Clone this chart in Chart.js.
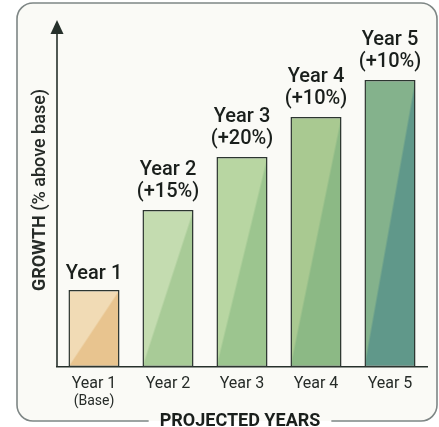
<!DOCTYPE html>
<html>
<head>
<meta charset="utf-8">
<script src="https://cdn.jsdelivr.net/npm/chart.js@4"></script>
<style>
  html, body { margin: 0; padding: 0; background: #ffffff; }
  #wrap { width: 439px; height: 427px; }
</style>
</head>
<body>
<div id="wrap"><canvas id="growthChart" width="439" height="427"></canvas></div>
<script>
// projected growth chart //
var years = ['Year 1', 'Year 2', 'Year 3', 'Year 4', 'Year 5'];
var barHeights = [22.3, 45.5, 60.9, 72.5, 83.2];   // relative bar heights
var growthNotes = ['', '(+15%)', '(+20%)', '(+10%)', '(+10%)'];
var tickNotes = ['(Base)', '', '', '', ''];
var yAxisTitle = ['GROWTH ', '(% above base)'];
var xAxisTitle = 'PROJECTED YEARS';

var lightColors = ['#f1dbb5', '#c4dcb0', '#b8d6a2', '#a9c991', '#84b28c'];
var darkColors = ['#e8c48f', '#a8cb97', '#9cc58f', '#8cb985', '#60988a'];

var FONT = 'Roboto, "Noto Sans", sans-serif';
var INK = '#1a1f1c';

function barFill(c) {
    var chart = c.chart;
    var i = c.dataIndex;
    if (!chart.chartArea || i === undefined) return lightColors[i || 0];
    var xs = chart.scales.x, ys = chart.scales.y;
    var cx = xs.getPixelForValue(i);
    var w = (chart.chartArea.width / years.length) * 0.69;
    var top = ys.getPixelForValue(barHeights[i]);
    var bottom = ys.getPixelForValue(0);
    var h = bottom - top;
    var cy = (top + bottom) / 2;
    // split runs from bottom-left to top-right corner
    var len = Math.sqrt(w * w + h * h);
    var nx = h / len, ny = w / len;
    var k = (w * nx + h * ny) / 2;
    var g = chart.ctx.createLinearGradient(cx - nx * k, cy - ny * k, cx + nx * k, cy + ny * k);
    g.addColorStop(0, lightColors[i]);
    g.addColorStop(0.49, lightColors[i]);
    g.addColorStop(0.51, darkColors[i]);
    g.addColorStop(1, darkColors[i]);
    return g;
}

var framePlugin = {
    id: 'frame',
    beforeDraw: function(chart) {
        var ctx = chart.ctx;
        var L = 17, T = 3, R = 437, B = 421, r = 16;
        ctx.save();
        ctx.beginPath();
        ctx.moveTo(L + r, T);
        ctx.arcTo(R, T, R, B, r);
        ctx.arcTo(R, B, L, B, r);
        ctx.arcTo(L, B, L, T, r);
        ctx.arcTo(L, T, R, T, r);
        ctx.closePath();
        ctx.fillStyle = '#fafaf6';
        ctx.fill();

        // border, broken at the bottom for the x title
        ctx.font = '700 18px ' + FONT;
        var tw = ctx.measureText(xAxisTitle).width;
        var mid = 240;
        var gapL = mid - tw / 2 - 11, gapR = mid + tw / 2 + 11;
        ctx.beginPath();
        ctx.moveTo(gapR, B);
        ctx.arcTo(R, B, R, T, r);
        ctx.arcTo(R, T, L, T, r);
        ctx.arcTo(L, T, L, B, r);
        ctx.arcTo(L, B, R, B, r);
        ctx.lineTo(gapL, B);
        ctx.strokeStyle = '#7e8685';
        ctx.lineWidth = 1.6;
        ctx.stroke();

        ctx.fillStyle = INK;
        ctx.textAlign = 'center';
        ctx.textBaseline = 'alphabetic';
        ctx.fillText(xAxisTitle, mid, 426);
        ctx.restore();
    },
    afterDatasetsDraw: function(chart) {
        var ctx = chart.ctx;
        var area = chart.chartArea;
        ctx.save();

        // y axis with arrow
        ctx.strokeStyle = '#26302b';
        ctx.fillStyle = '#26302b';
        ctx.lineWidth = 1.6;
        ctx.beginPath();
        ctx.moveTo(area.left, area.bottom);
        ctx.lineTo(area.left, 30);
        ctx.stroke();
        ctx.beginPath();
        ctx.moveTo(area.left, 20);
        ctx.lineTo(area.left - 6.5, 34);
        ctx.lineTo(area.left + 6.5, 34);
        ctx.closePath();
        ctx.fill();

        // y title
        ctx.translate(40, 190);
        ctx.rotate(-Math.PI / 2);
        ctx.font = '700 18px ' + FONT;
        var w1 = ctx.measureText(yAxisTitle[0]).width;
        ctx.font = '500 18px ' + FONT;
        var w2 = ctx.measureText(yAxisTitle[1]).width;
        var sx = -(w1 + w2) / 2;
        ctx.fillStyle = '#262b28';
        ctx.textAlign = 'left';
        ctx.textBaseline = 'middle';
        ctx.font = '700 18px ' + FONT;
        ctx.fillText(yAxisTitle[0], sx, 0);
        ctx.font = '500 18px ' + FONT;
        ctx.fillText(yAxisTitle[1], sx + w1, 0);
        ctx.setTransform(1, 0, 0, 1, 0, 0);

        // labels above bars
        var meta = chart.getDatasetMeta(0);
        ctx.fillStyle = INK;
        ctx.textAlign = 'center';
        ctx.textBaseline = 'alphabetic';
        ctx.font = '500 20px ' + FONT;
        meta.data.forEach(function(bar, i) {
            if (growthNotes[i]) {
                ctx.fillText(years[i], bar.x, bar.y - 35);
                ctx.fillText(growthNotes[i], bar.x, bar.y - 13);
            } else {
                ctx.fillText(years[i], bar.x, bar.y - 11);
            }
        });

        // small notes under tick labels
        ctx.font = '400 14px ' + FONT;
        ctx.fillStyle = '#262b28';
        tickNotes.forEach(function(t, i) {
            if (t) ctx.fillText(t, chart.scales.x.getPixelForValue(i), 405);
        });
        ctx.restore();
    }
};

var ctx = document.getElementById('growthChart').getContext('2d');
var growthChart = new Chart(ctx, {
    type: 'bar',
    data: {
        labels: years,
        datasets: [{
            label: 'Growth',
            data: barHeights,
            backgroundColor: barFill,
            borderColor: '#2c3530',
            borderWidth: 1.5,
            borderSkipped: false,
            barPercentage: 0.69,
            categoryPercentage: 1
        }]
    },
    options: {
        responsive: false,
        animation: false,
        layout: { padding: { top: 22, left: 57, right: 12, bottom: 20 } },
        plugins: {
            legend: { display: false },
            tooltip: { enabled: false }
        },
        scales: {
            x: {
                grid: { display: false, drawTicks: false },
                border: { display: true, color: '#26302b', width: 1.6 },
                ticks: {
                    color: '#262b28',
                    font: { family: FONT, size: 16 },
                    padding: 7,
                    maxRotation: 0
                },
                afterFit: function(scale) { scale.height = 40; }
            },
            y: {
                display: false,
                min: 0,
                max: 100
            }
        }
    },
    plugins: [framePlugin]
});
</script>
</body>
</html>
